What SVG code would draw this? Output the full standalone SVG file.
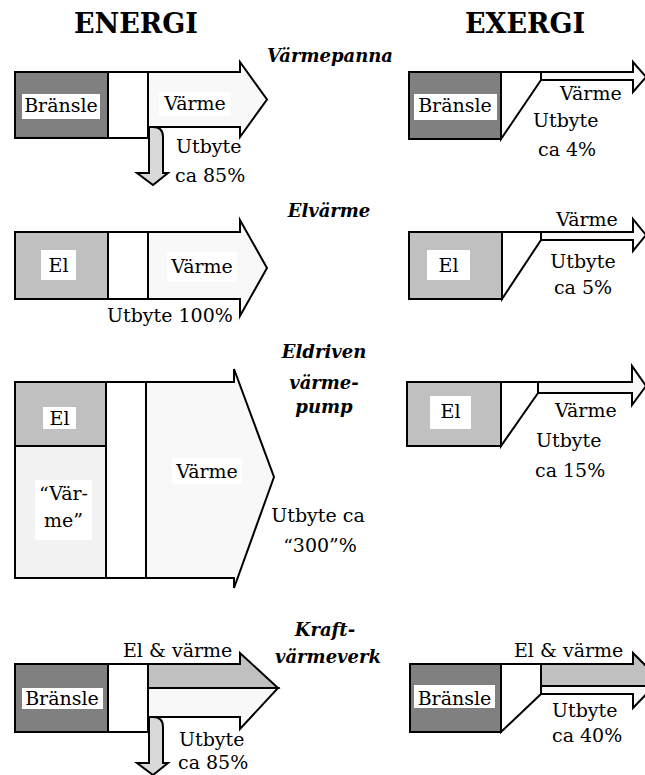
<svg xmlns="http://www.w3.org/2000/svg" width="645" height="775" viewBox="0 0 645 775">
  <style>
    .bg { fill: #ffffff; }
    .ln { stroke: #000000; stroke-width: 2; stroke-linejoin: miter; }
    .fuel { fill: #808080; }
    .el { fill: #c0c0c0; }
    .heat { fill: #f8f8f8; }
    .amb { fill: #f2f2f2; }
    .loss { fill: #d9d9d9; }
    .conv { fill: #ffffff; }
    .lbl { fill: #ffffff; stroke: none; }
    text { font-family: "DejaVu Serif", "Liberation Serif", serif; fill: #000000; }
    .t { font-size: 19px; }
    .head { font-size: 27px; font-weight: bold; }
    .cap { font-size: 18px; font-weight: bold; font-style: italic; }
    .mid { text-anchor: middle; }
  </style>

  <rect class="bg" x="0" y="0" width="645" height="775"/>

  <!-- column headings -->
  <g id="headings">
    <text class="head mid" x="136" y="33">ENERGI</text>
    <text class="head mid" x="525" y="33">EXERGI</text>
  </g>

  <!-- process names between the columns -->
  <g id="process-names">
    <text class="cap mid" x="330" y="62">Värmepanna</text>
    <text class="cap mid" x="329" y="217">Elvärme</text>
    <text class="cap mid" x="324" y="358">Eldriven</text>
    <text class="cap mid" x="324" y="389">värme-</text>
    <text class="cap mid" x="324" y="413">pump</text>
    <text class="cap mid" x="325" y="636">Kraft-</text>
    <text class="cap mid" x="328" y="663">värmeverk</text>
  </g>

  <!-- ===== Värmepanna, energy ===== -->
  <g id="boiler-energy">
    <rect class="fuel ln" x="15" y="72" width="93" height="66"/>
    <rect class="lbl" x="22" y="94" width="78" height="25"/>
    <text class="t mid" x="61" y="112">Bränsle</text>
    <rect class="conv ln" x="108" y="72" width="40" height="66"/>
    <polygon class="heat ln" points="148,72 240,72 240,62 267,99.5 240,137 240,127 148,127"/>
    <rect class="lbl" x="159" y="92" width="72" height="24"/>
    <text class="t mid" x="195" y="110">Värme</text>
    <path class="loss ln" d="M149,127 L149,173 L137,173 L153,185 L168,173 L163,173 L163,137 Q163,127 153,127 Z"/>
    <text class="t" x="176" y="153">Utbyte</text>
    <text class="t" x="175" y="182">ca 85%</text>
  </g>

  <!-- ===== Värmepanna, exergy ===== -->
  <g id="boiler-exergy">
    <rect class="fuel ln" x="409" y="72" width="92" height="67"/>
    <rect class="lbl" x="414" y="94" width="83" height="26"/>
    <text class="t mid" x="455" y="112">Bränsle</text>
    <polygon class="conv ln" points="501,72 541,72 541,80 501,139"/>
    <polygon class="heat ln" points="541,72 633,72 633,62 646,77 633,92 633,80 541,80"/>
    <text class="t" x="560" y="100">Värme</text>
    <text class="t" x="533" y="127">Utbyte</text>
    <text class="t" x="538" y="156">ca 4%</text>
  </g>

  <!-- ===== Elvärme, energy ===== -->
  <g id="electric-energy">
    <rect class="el ln" x="15" y="232" width="93" height="67"/>
    <rect class="lbl" x="41" y="250" width="35" height="30"/>
    <text class="t mid" x="58.5" y="272">El</text>
    <rect class="conv ln" x="108" y="232" width="40" height="67"/>
    <polygon class="heat ln" points="148,232 240,232 240,220 267,268 240,316 240,299 148,299"/>
    <rect class="lbl" x="167" y="252" width="70" height="30"/>
    <text class="t mid" x="202" y="273">Värme</text>
    <text class="t" x="107" y="322">Utbyte 100%</text>
  </g>

  <!-- ===== Elvärme, exergy ===== -->
  <g id="electric-exergy">
    <rect class="el ln" x="409" y="232" width="93" height="67"/>
    <rect class="lbl" x="427" y="250" width="43" height="30"/>
    <text class="t mid" x="448.5" y="272">El</text>
    <polygon class="conv ln" points="502,232 541,232 541,240 502,299"/>
    <polygon class="heat ln" points="541,232 633,232 633,219 646,235 633,251 633,240 541,240"/>
    <text class="t mid" x="587" y="226">Värme</text>
    <text class="t mid" x="583" y="268">Utbyte</text>
    <text class="t mid" x="583" y="294">ca 5%</text>
  </g>

  <!-- ===== Eldriven värmepump, energy ===== -->
  <g id="heatpump-energy">
    <rect class="el ln" x="15" y="382" width="91" height="64"/>
    <rect class="amb ln" x="15" y="446" width="91" height="132"/>
    <rect class="lbl" x="43" y="407" width="33" height="22"/>
    <text class="t mid" x="59.5" y="425">El</text>
    <rect class="lbl" x="35" y="480" width="57" height="60"/>
    <text class="t mid" x="63.5" y="500">“Vär-</text>
    <text class="t mid" x="63.5" y="527">me”</text>
    <rect class="conv ln" x="106" y="382" width="40" height="196"/>
    <polygon class="heat ln" points="146,382 234,382 234,369 274,477 234,588 234,578 146,578"/>
    <rect class="lbl" x="172" y="458" width="70" height="26"/>
    <text class="t mid" x="207" y="478">Värme</text>
    <text class="t mid" x="318" y="522">Utbyte ca</text>
    <text class="t mid" x="320" y="552">“300”%</text>
  </g>

  <!-- ===== Eldriven värmepump, exergy ===== -->
  <g id="heatpump-exergy">
    <rect class="el ln" x="407" y="382" width="94" height="64"/>
    <rect class="lbl" x="430" y="396" width="41" height="33"/>
    <text class="t mid" x="450.5" y="418">El</text>
    <polygon class="conv ln" points="501,382 538,382 538,393 501,446"/>
    <polygon class="heat ln" points="538,382 632,382 632,366 646,386 632,405 632,393 538,393"/>
    <text class="t" x="555" y="417">Värme</text>
    <text class="t" x="536" y="447">Utbyte</text>
    <text class="t" x="535" y="477">ca 15%</text>
  </g>

  <!-- ===== Kraftvärmeverk, energy ===== -->
  <g id="chp-energy">
    <rect class="fuel ln" x="15" y="664" width="93" height="68"/>
    <rect class="lbl" x="22" y="688" width="81" height="21"/>
    <text class="t mid" x="62" y="705">Bränsle</text>
    <rect class="conv ln" x="108" y="664" width="40" height="68"/>
    <polygon class="el ln" points="148,664 240,664 240,653 278,688 148,688"/>
    <polygon class="heat ln" points="148,688 278,688 240,729 240,717 148,717"/>
    <path class="loss ln" d="M149,717 L149,763 L137,763 L153,775 L168,763 L163,763 L163,727 Q163,717 153,717 Z"/>
    <text class="t" x="123" y="657">El &amp; värme</text>
    <text class="t" x="179" y="746">Utbyte</text>
    <text class="t" x="178" y="769">ca 85%</text>
  </g>

  <!-- ===== Kraftvärmeverk, exergy ===== -->
  <g id="chp-exergy">
    <rect class="fuel ln" x="410" y="664" width="91" height="68"/>
    <rect class="lbl" x="414" y="685" width="81" height="23"/>
    <text class="t mid" x="454.5" y="705">Bränsle</text>
    <polygon class="conv ln" points="501,664 541,664 541,694 501,732"/>
    <polygon class="el ln" points="541,664 633,664 633,653 660,680 654,686 541,686"/>
    <polygon class="heat ln" points="541,686 654,686 633,708 633,694 541,694"/>
    <text class="t" x="514" y="657">El &amp; värme</text>
    <text class="t" x="552" y="717">Utbyte</text>
    <text class="t" x="552" y="742">ca 40%</text>
  </g>
</svg>
